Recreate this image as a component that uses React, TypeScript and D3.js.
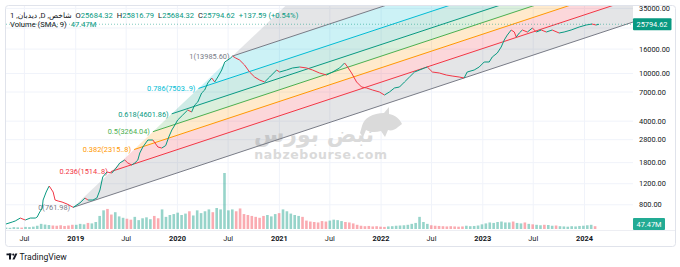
import React from 'react';
import * as d3 from 'd3';

// ---------- DATA ----------
const priceDates = [
  '2018-04-26','2018-05-18','2018-05-29','2018-06-16','2018-07-04','2018-07-22','2018-08-09','2018-08-16','2018-08-23','2018-09-03',
  '2018-09-06','2018-09-17','2018-09-24','2018-09-28','2018-10-12','2018-10-19','2018-10-30','2018-11-13','2018-12-01','2018-12-23',
  '2019-01-16','2019-02-03','2019-02-14','2019-03-04','2019-03-18','2019-03-29','2019-04-08','2019-04-23','2019-05-11','2019-05-29',
  '2019-06-08','2019-06-26','2019-07-07','2019-07-21','2019-08-01','2019-08-12','2019-08-19','2019-08-30','2019-09-17','2019-10-05',
  '2019-10-23','2019-11-06','2019-11-20','2019-12-01','2019-12-12','2019-12-23','2020-01-02','2020-01-20','2020-02-07','2020-02-21',
  '2020-03-03','2020-03-14','2020-03-28','2020-04-08','2020-04-19','2020-05-03','2020-05-14','2020-05-25','2020-06-08','2020-06-19',
  '2020-06-30','2020-07-10','2020-07-17','2020-07-28','2020-08-11','2020-08-29','2020-09-16','2020-10-04','2020-10-22','2020-11-09',
  '2020-11-27','2020-12-22','2021-01-02','2021-01-27','2021-02-17','2021-03-15','2021-04-09','2021-04-30','2021-05-25','2021-06-19',
  '2021-07-11','2021-08-05','2021-08-23','2021-09-03','2021-09-17','2021-10-05','2021-10-23','2021-11-10','2021-12-01','2021-12-26',
  '2022-01-13','2022-01-31','2022-02-18','2022-03-08','2022-03-26','2022-04-13','2022-05-01','2022-05-19','2022-06-06','2022-06-16',
  '2022-07-04','2022-07-29','2022-08-23','2022-09-13','2022-10-08','2022-10-26','2022-11-06','2022-12-01','2022-12-19','2023-01-06',
  '2023-01-24','2023-02-04','2023-02-22','2023-03-08','2023-03-19','2023-03-30','2023-04-13','2023-04-24','2023-05-01','2023-05-12',
  '2023-05-23','2023-06-10','2023-06-28','2023-07-12','2023-07-30','2023-08-17','2023-09-07','2023-10-02','2023-10-20','2023-11-14',
  '2023-12-13','2024-01-07','2024-01-28','2024-02-11','2024-02-22'
];
const priceValues = [
  553,574,586,620,597,620,620,633,683,752,
  877,1023,1105,1148,1023,877,860,844,812,761.98,
  828,912,877,877,912,1063,1366,1503,1475,1656,
  1788,1894,1788,1720,1788,1894,2167,2432,2782,2782,
  2432,2385,2500,2948,3373,3713,4088,4499,4954,4768,
  5454,5778,6873,7282,8330,9171,8492,9349,10696,12478,
  12967,13475,13985.6,13475,12967,11778,10292,9349,8824,8492,
  9349,10696,10292,10696,11115,11331,11115,10696,10097,9716,
  10292,11115,12240,11331,10097,8492,7712,7567,7282,7006,
  6613,7006,7567,7712,8492,9349,10292,10696,11115,11331,
  10292,10097,9716,9530,9349,9171,10292,10696,11331,12478,
  12478,13737,14834,16649,19055,20969,23087,22217,20183,21792,
  23087,22217,23993,22217,23087,22217,23087,21792,22217,23087,
  24460,25420,25911,25420,25794.62
];

// biweekly volume (millions), starting volStart, every 14 days
const volStart = '2018-04-26';
const volValues = [
  30,25,40,35,30,45,40,50,70,110,95,85,75,70,80,65,75,90,
  90,110,100,130,120,150, 280,400,430,310,360,270,240, 220,200,260,190,230,250,210, 280,230,420,260,300,320,
  350,300,330,380,290,400,340, 380,420,360,450,420,1200, 400,420,380,440,320,300,280, 260,240,280,300,270,320,
  340,420,380,330,300,280,260, 180,160,150,140,170,160, 180,200,190,170,150,140,120, 90,70,60,65,55,60,
  50,45,55,60,70,75,80, 90,110,130,260,150,110, 80,70,65,60,55,60,55, 50,55,70,60,65,75,
  100,120,140,130,150,160,140, 140,160,130,120,140,110, 100,90,80,90,85,70,75, 60,55,50,60,55,65,
  70,80,90,60
];

const priceTicks = [35000, 24000, 16000, 10000, 7000, 4000, 2800, 1800, 1200, 800];
const timeTickDates = ['2018-07-01','2019-01-01','2019-07-01','2020-01-01','2020-07-01','2021-01-01','2021-07-01','2022-01-01','2022-07-01','2023-01-01','2023-07-01','2024-01-01'];
const timeTickLabels = ['Jul','2019','Jul','2020','Jul','2021','Jul','2022','Jul','2023','Jul','2024'];

const fibLevels = [0, 0.236, 0.382, 0.5, 0.618, 0.786, 1, 1.618];
const fibLabels = ['0(761.98)','0.236(1514..8)','0.382(2315..8)','0.5(3264.04)','0.618(4601.86)','0.786(7503..9)','1(13985.60)',''];
const fibColors = ['#787b86','#f23645','#ff9800','#4caf50','#089981','#00bcd4','#787b86','#2962ff'];
const anchorDates = ['2018-12-23','2024-01-01','2020-07-17'];
const anchorPrices = [761.98, 19755, 13985.6];

const lastPrice = 25794.62;
const lastPriceLabel = '25794.62';
const lastVolLabel = '47.47M';
const headerTitle = '1 ,دیدبان ,D ,شاخص';
const ohlcKeys = ['O','H','L','C'];
const ohlcVals = ['25684.32','25816.79','25684.32','25794.62'];
const changeText = '+137.59 (+0.54%)';
const watermarkFa = 'نبض بورس';
const watermarkEn = 'nabzebourse.com';

// ---------- CHART ----------
const W = 680, H = 267;
const UP = '#089981', DOWN = '#f23645';
const FONT = "Roboto, 'DejaVu Sans', sans-serif";

export default function App() {
  const parse = d3.timeParse('%Y-%m-%d');
  const x = d3.scaleTime()
    .domain([new Date(2019, 0, 1), new Date(2024, 0, 1)])
    .range([75.7, 584.5]);
  const y = d3.scaleLog().domain([800, 16000]).range([204.8, 49.07]);
  const yVol = d3.scaleLinear().domain([0, 1200]).range([229, 173]);

  const plot = { l: 6, r: 633, t: 6, b: 229.5 };

  const pts = priceDates.map((d, i) => ({ d: parse(d) as Date, v: priceValues[i] }));

  // fib channel geometry
  const A = anchorDates.map((d, i) => [x(parse(d) as Date), y(anchorPrices[i])]);
  const slope = (A[1][1] - A[0][1]) / (A[1][0] - A[0][0]);
  const farX = 720;
  const starts = fibLevels.map(k => [A[0][0] + k * (A[2][0] - A[0][0]), A[0][1] + k * (A[2][1] - A[0][1])]);
  const ends = starts.map(s => [farX, s[1] + slope * (farX - s[0])]);

  const volDates = volValues.map((_, i) => d3.timeDay.offset(parse(volStart) as Date, i * 14));
  const bis = d3.bisector((p: any) => p.d).left;
  const volColor = (dt: Date) => {
    let j = bis(pts, dt);
    if (j <= 0) j = 1;
    if (j >= pts.length) j = pts.length - 1;
    return pts[j].v >= pts[j - 1].v ? 'rgba(8,153,129,0.42)' : 'rgba(242,54,69,0.42)';
  };

  const gridColor = '#f0f3fa';
  const yLast = y(lastPrice);

  return (
    <svg width={W} height={H} style={{ position: 'absolute', left: 0, top: 0, background: '#fff' }} fontFamily={FONT}>
      <defs>
        <clipPath id="plotClip">
          <rect x={plot.l} y={plot.t} width={plot.r - plot.l} height={plot.b - plot.t} />
        </clipPath>
        <clipPath id="axisClip">
          <rect x={plot.r} y={plot.t} width={W - plot.r - 5} height={plot.b - plot.t} />
        </clipPath>
      </defs>

      {/* grid */}
      <g>
        {priceTicks.map(t => (
          <line key={'hg' + t} x1={plot.l} x2={plot.r} y1={y(t)} y2={y(t)} stroke={gridColor} strokeWidth={1} />
        ))}
        {timeTickDates.map(t => (
          <line key={'vg' + t} x1={x(parse(t) as Date)} x2={x(parse(t) as Date)} y1={plot.t} y2={plot.b} stroke={gridColor} strokeWidth={1} />
        ))}
      </g>

      {/* watermark */}
      <g fill="#dadada">
        <path d="M362,126 C364,118 373,113 384,113 L389,107 L389,114 C395,115 400,119 402,124 L398,127 C395,130 391,131 388,130 L385,137 L381,131 C375,133 369,132 366,130 L363,137 L360,133 Z" />
        <text x={374} y={142} fontSize={22} fontWeight="bold" textAnchor="end" fontFamily="'DejaVu Sans', sans-serif">{watermarkFa}</text>
        <text x={321} y={159} fontSize={12.5} fontWeight="bold" textAnchor="middle" letterSpacing={0.6} fontFamily="'DejaVu Sans', sans-serif">{watermarkEn}</text>
      </g>

      {/* fib channel */}
      <g clipPath="url(#plotClip)">
        {fibLevels.slice(0, -1).map((k, i) => {
          const s0 = starts[i], s1 = starts[i + 1], e0 = ends[i], e1 = ends[i + 1];
          return (
            <polygon key={'ff' + k}
              points={[s0, s1, e1, e0].map(p => p.join(',')).join(' ')}
              fill={fibColors[i]} fillOpacity={0.2} />
          );
        })}
        {fibLevels.map((k, i) => (
          <line key={'fl' + k} x1={starts[i][0]} y1={starts[i][1]} x2={ends[i][0]} y2={ends[i][1]}
            stroke={fibColors[i]} strokeWidth={1} />
        ))}
      </g>
      <g fontSize={7.4} textAnchor="end">
        {fibLevels.map((k, i) => fibLabels[i] ? (
          <text key={'flab' + k} x={starts[i][0] - 3} y={starts[i][1] + 2.8} fill={fibColors[i]}>{fibLabels[i]}</text>
        ) : null)}
      </g>

      {/* volume */}
      <g clipPath="url(#plotClip)">
        {volValues.map((v, i) => (
          <rect key={'v' + i} x={x(volDates[i]) - 1.3} width={2.6} y={yVol(v)} height={yVol(0) - yVol(v)} fill={volColor(volDates[i])} />
        ))}
      </g>

      {/* last price line */}
      <line x1={plot.l} x2={plot.r} y1={yLast} y2={yLast} stroke={UP} strokeWidth={1} strokeDasharray="1,2" opacity={0.5} />

      {/* price series */}
      <g clipPath="url(#plotClip)">
        {pts.slice(1).map((p, i) => {
          const a = pts[i];
          return (
            <line key={'p' + i} x1={x(a.d)} y1={y(a.v)} x2={x(p.d)} y2={y(p.v)}
              stroke={p.v >= a.v ? UP : DOWN} strokeWidth={1} />
          );
        })}
      </g>

      {/* price axis */}
      <g clipPath="url(#axisClip)" fontSize={7.4} fill="#131722">
        {priceTicks.filter(t => Math.abs(y(t) - yLast) > 9).map(t => (
          <text key={'pt' + t} x={639} y={y(t) + 2.6}>{d3.format('.2f')(t)}</text>
        ))}
      </g>
      <rect x={633} y={yLast - 6} width={38.5} height={12} fill={UP} rx={1} />
      <text x={652} y={yLast + 2.6} fontSize={7.4} fill="#fff" textAnchor="middle">{lastPriceLabel}</text>
      <rect x={633} y={218} width={32} height={12} fill="#22ab94" rx={1} />
      <text x={649} y={226.6} fontSize={7.4} fill="#fff" textAnchor="middle">{lastVolLabel}</text>

      {/* time axis */}
      <line x1={5} x2={675} y1={230.5} y2={230.5} stroke="#e0e3eb" strokeWidth={0.6} />
      <g fontSize={7.4} fill="#131722" textAnchor="middle">
        {timeTickDates.map((t, i) => (
          <text key={'tt' + t} x={x(parse(t) as Date)} y={240.5}
            fontWeight={timeTickLabels[i] === 'Jul' ? 'normal' : 'bold'}>{timeTickLabels[i]}</text>
        ))}
      </g>

      {/* frame */}
      <rect x={5.5} y={5.5} width={670} height={241} rx={3} fill="none" stroke="#e0e3eb" strokeWidth={1} />

      {/* header */}
      <text x={10} y={17.5} fontSize={7.6} fill="#131722">
        <tspan>{headerTitle}</tspan>
        {ohlcKeys.map((k, i) => (
          <React.Fragment key={k}>
            <tspan dx={4} fill="#131722">{k}</tspan>
            <tspan fill={UP}>{ohlcVals[i]}</tspan>
          </React.Fragment>
        ))}
        <tspan dx={4} fill={UP}>{changeText}</tspan>
      </text>
      <text x={10} y={27} fontSize={7.6} fill="#131722">
        <tspan>Volume (SMA, 9)</tspan>
        <tspan dx={4} fill={UP}>{lastVolLabel}</tspan>
      </text>

      {/* TradingView logo */}
      <g fill="#131722">
        <rect x={6.5} y={253.5} width={5} height={1.8} />
        <rect x={9} y={253.5} width={2} height={6} />
        <circle cx={13.3} cy={254.6} r={1.1} />
        <polygon points="12.4,259.5 15.3,253.5 17.4,253.5 14.5,259.5" />
        <text x={19.5} y={259.5} fontSize={8.6}>TradingView</text>
      </g>
    </svg>
  );
}
